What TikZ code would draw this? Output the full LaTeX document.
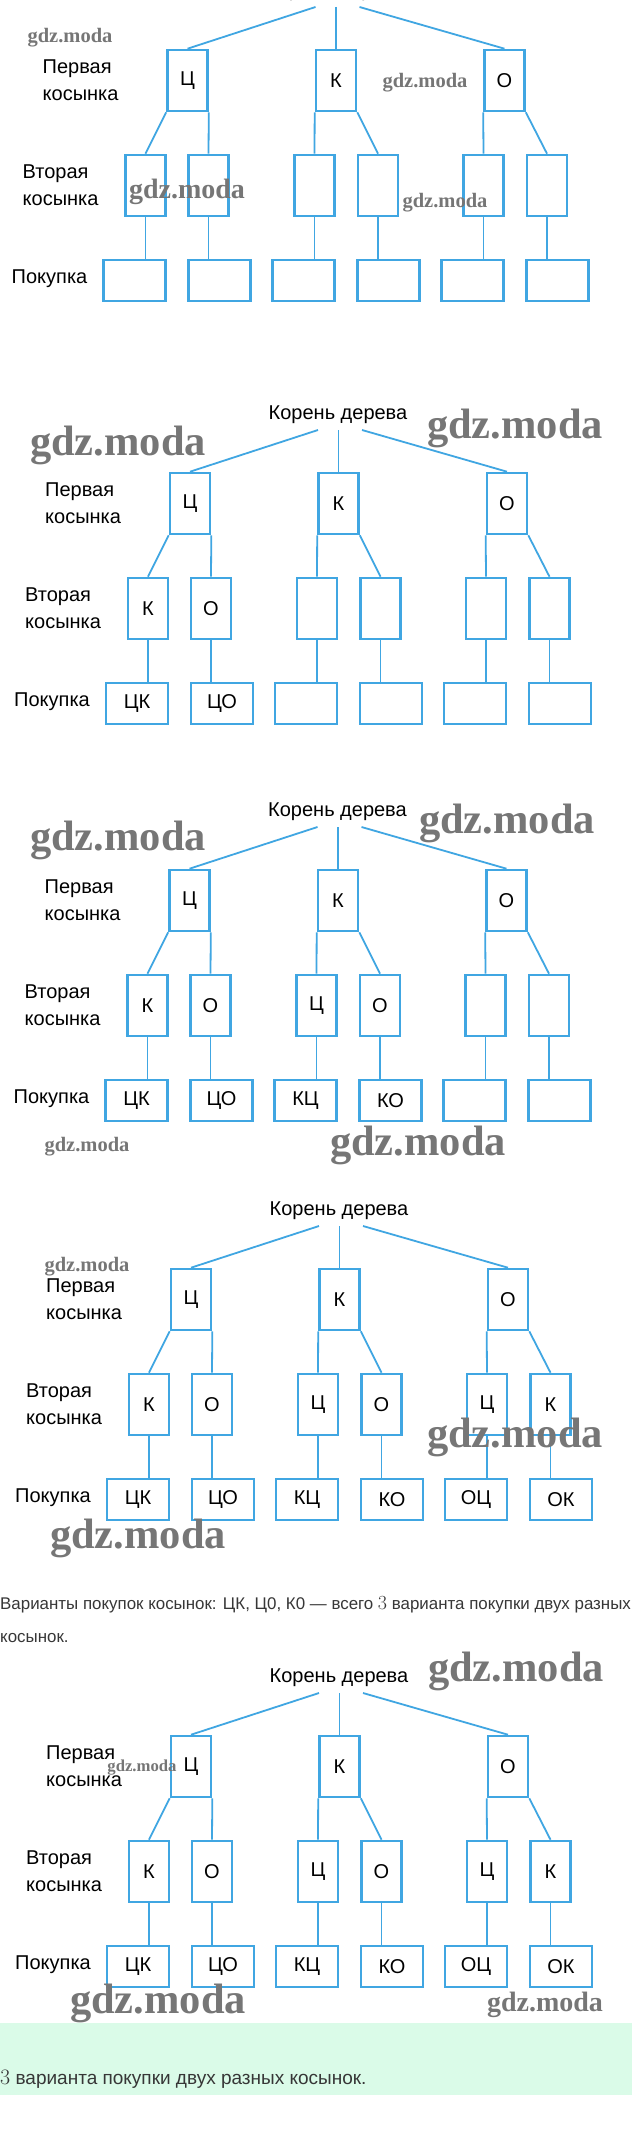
\documentclass[tikz,border=0pt]{standalone}
\usepackage{fontspec}
\newfontfamily\sans{Liberation Sans}
\newfontfamily\wmfont{Liberation Serif}
\definecolor{bl}{RGB}{64,166,226}
\definecolor{mint}{RGB}{218,251,232}
\definecolor{txt}{RGB}{55,55,55}
\definecolor{wm}{RGB}{118,118,118}
\tikzset{
  box/.style={draw=bl, line width=2.6pt, minimum width=40pt, minimum height=61pt, inner sep=0pt, font=\sans\fontsize{20}{24}\selectfont},
  wbox/.style={draw=bl, line width=2.6pt, minimum width=62pt, minimum height=41pt, inner sep=0pt, font=\sans\fontsize{20}{24}\selectfont},
  link/.style={draw=bl, line width=1.8pt},
  lbl/.style={anchor=west, align=left, inner sep=0pt, font=\sans\fontsize{20}{27}\selectfont},
  rootlbl/.style={inner sep=0pt, font=\sans\fontsize{20}{24}\selectfont},
  wmk/.style={inner sep=0pt, text=wm, font=\wmfont\bfseries\fontsize{#1}{#1}\selectfont},
  para/.style={anchor=west, inner sep=0pt, text=txt, font=\sans\fontsize{16.9}{20}\selectfont},
  parab/.style={anchor=west, inner sep=0pt, text=txt, font=\sans\fontsize{19}{22}\selectfont}
}
\newcommand\mytree[5]{%
\begin{scope}[shift={(#2,#3)}]
  \node[rootlbl] (#1-root) at (338,-57) {Корень дерева};
  \coordinate (#1-r1) at (318,-42);
  \coordinate (#1-r2) at (338.5,-42);
  \coordinate (#1-r3) at (362,-42);
  \node[box] (#1-a1) at (190,31.5) {Ц};
  \node[box] (#1-a2) at (338.5,31.5) {К};
  \node[box] (#1-a3) at (507,31.5) {О};
  \node[lbl] (#1-l1) at (45,31.5) {Первая\\косынка};
  \node[lbl] (#1-l2) at (25,136.5) {Вторая\\косынка};
  \node[lbl] (#1-l3) at (14,230) {Покупка};
  \foreach \xb/\xc/\lb/\lc [count=\i] in {148/137/К/ЦК, 211/222/О/ЦО, 317/306/Ц/КЦ, 380.5/391/О/КО, 486/475/Ц/ОЦ, 549.5/560/К/ОК}{
    \ifnum\i>#4\relax
      \node[box] (#1-b\i) at (\xb,136.5) {};
    \else
      \node[box] (#1-b\i) at (\xb,136.5) {\lb};
    \fi
    \ifnum\i>#5\relax
      \node[wbox] (#1-c\i) at (\xc,231.5) {};
    \else
      \node[wbox] (#1-c\i) at (\xc,231.5) {\lc};
    \fi
  }
  \draw[link] (#1-r1) -- (#1-a1.north);
  \draw[link] (#1-r2) -- (#1-a2.north);
  \draw[link] (#1-r3) -- (#1-a3.north);
  \draw[link] (#1-a1.south west) -- (#1-b1.north);
  \draw[link] (#1-a1.south east) -- (#1-b2.north);
  \draw[link] (#1-a2.south west) -- (#1-b3.north);
  \draw[link] (#1-a2.south east) -- (#1-b4.north);
  \draw[link] (#1-a3.south west) -- (#1-b5.north);
  \draw[link] (#1-a3.south east) -- (#1-b6.north);
  \foreach \i in {1,...,6}{
    \draw[link] (#1-b\i.south) -- (#1-b\i.south |- #1-c\i.north);
  }
\end{scope}}
\begin{document}
\begin{tikzpicture}[x=1pt,y=-1pt]
\useasboundingbox (0,0) rectangle (632,2130);
\fill[white] (0,0) rectangle (632,2130);
% green answer band
\fill[mint] (0,2023) rectangle (632,2095);
% trees
\mytree{t1}{-2.5}{49}{0}{0}
\mytree{t2}{0}{472}{2}{2}
\mytree{t3}{-0.5}{869}{4}{4}
\mytree{t4}{1}{1268}{6}{6}
\mytree{t5}{1}{1735}{6}{6}
% paragraph texts
\node[para] (p1) at (0,1605) {Варианты покупок косынок: ЦК, Ц0, К0 — всего {\rmfamily\fontsize{20}{20}\selectfont 3} варианта покупки двух разных};
\node[para] (p2) at (0,1638) {косынок.};
\node[parab] (p3) at (0,2079) {{\rmfamily\fontsize{22}{22}\selectfont 3} варианта покупки двух разных косынок.};
% watermarks
\node[wmk=20.5] (w1) at (70,38) {gdz.moda};
\node[wmk=20.5] (w2) at (425,83) {gdz.moda};
\node[wmk=28] (w3) at (187,192) {gdz.moda};
\node[wmk=20.5] (w4) at (445,203) {gdz.moda};
\node[wmk=42.5] (w5) at (118,445) {gdz.moda};
\node[wmk=42.5] (w6) at (515,428) {gdz.moda};
\node[wmk=42.5] (w7) at (118,840) {gdz.moda};
\node[wmk=42.5] (w8) at (507,823) {gdz.moda};
\node[wmk=20.5] (w9) at (87,1147) {gdz.moda};
\node[wmk=42.5] (w10) at (418,1145) {gdz.moda};
\node[wmk=20.5] (w11) at (87,1267) {gdz.moda};
\node[wmk=42.5] (w12) at (515,1437) {gdz.moda};
\node[wmk=42.5] (w13) at (138,1538) {gdz.moda};
\node[wmk=42.5] (w14) at (516,1671) {gdz.moda};
\node[wmk=16.7] (w15) at (142,1768) {gdz.moda};
\node[wmk=42.5] (w16) at (158,2003) {gdz.moda};
\node[wmk=28] (w17) at (545,2005) {gdz.moda};
\end{tikzpicture}
\end{document}
